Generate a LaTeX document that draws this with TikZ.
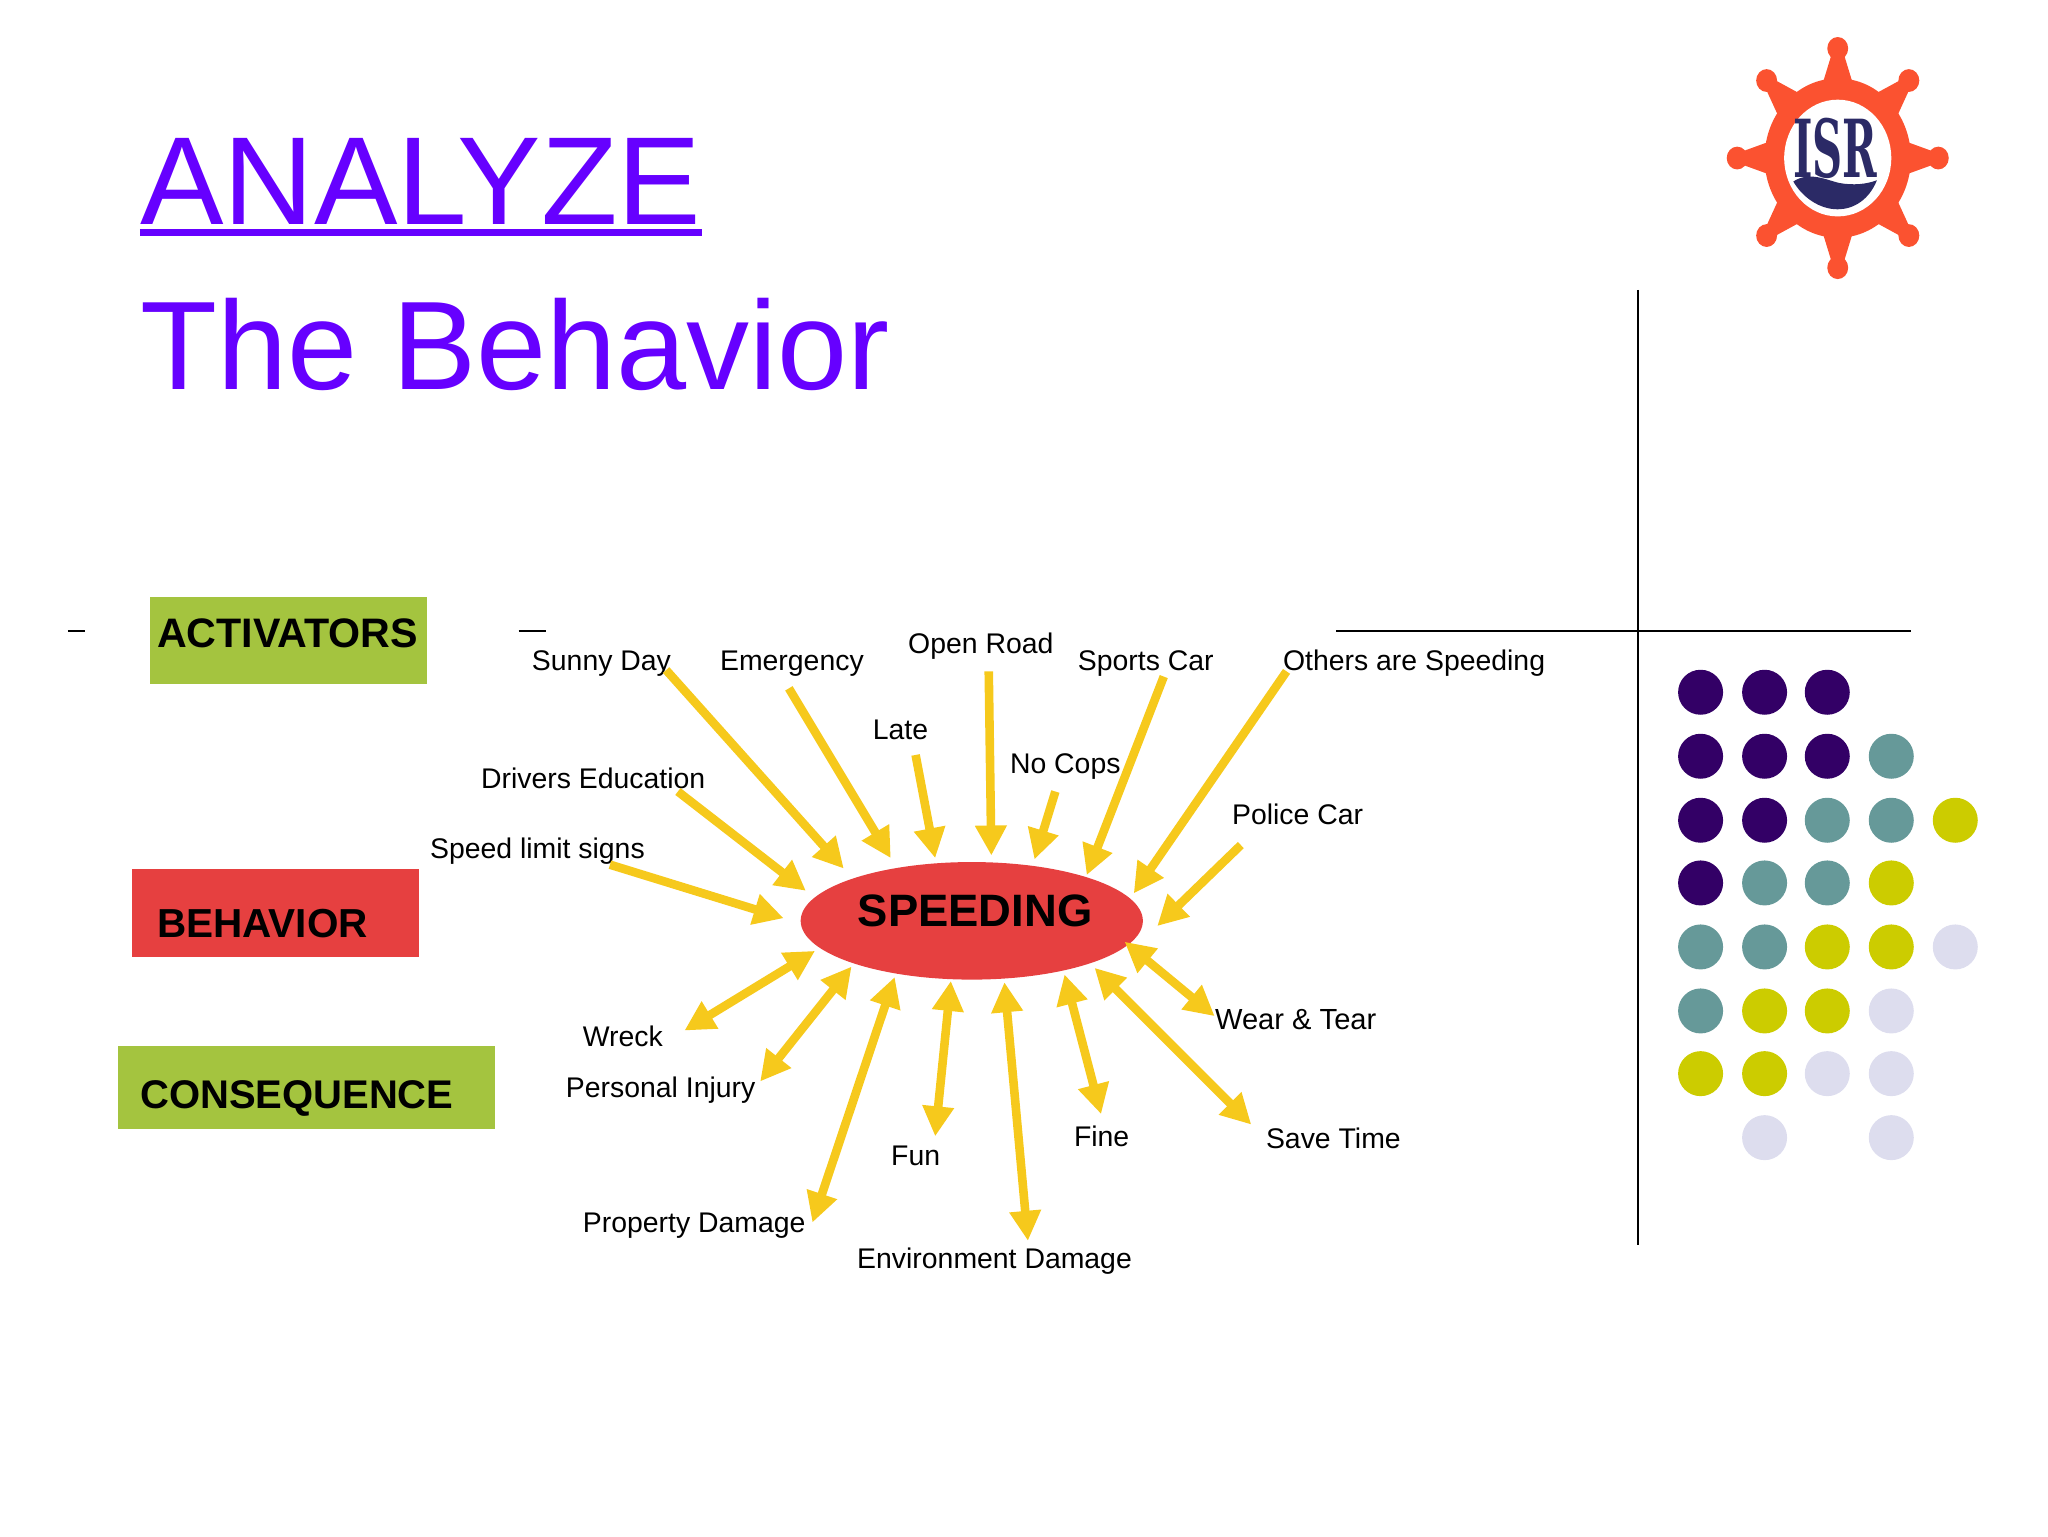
\documentclass[tikz,border=0pt]{standalone}
\usepackage{fontspec}
\setmainfont{Liberation Sans}
\newfontfamily\logofont{DejaVu Serif}
\usetikzlibrary{arrows.meta}
\definecolor{titlecol}{HTML}{6600FF}
\definecolor{arrowcol}{HTML}{F6C91C}
\definecolor{boxgreen}{HTML}{A4C43F}
\definecolor{boxred}{HTML}{E64040}
\definecolor{dotP}{HTML}{330066}
\definecolor{dotT}{HTML}{669999}
\definecolor{dotY}{HTML}{CCCC00}
\definecolor{dotL}{HTML}{DDDDEE}
\definecolor{logoor}{HTML}{FB5230}
\definecolor{logonavy}{HTML}{2B2A66}
\tikzset{
  lbl/.style={anchor=base west,inner sep=0pt,font=\fontsize{14.2}{16}\selectfont,text=black},
  titletxt/.style={anchor=base west,inner sep=0pt,font=\fontsize{#1}{70}\selectfont,text=titlecol},
  boxlbl/.style={anchor=base west,inner sep=0pt,font=\fontsize{#1}{24}\selectfont\bfseries,text=black},
  inarrow/.style={draw=arrowcol,line width=4.3pt,-{Triangle[length=15pt,width=15pt]}},
  botharrow/.style={draw=arrowcol,line width=4.3pt,{Triangle[length=15pt,width=15pt]}-{Triangle[length=15pt,width=15pt]}},
  thinline/.style={draw=black,line width=0.7pt},
  dotc/.style={circle,minimum size=22.5pt,inner sep=0pt,fill=#1},
}
\begin{document}
\begin{tikzpicture}[x=0.65306pt,y=-0.65306pt]
\useasboundingbox (0,0) rectangle (1568,1176);
% titles
\node[titletxt=62.6] (analyze) at (107,172) {ANALYZE};
\draw[titlecol,line width=3.4pt] (analyze.base west |- 0,178) -- (analyze.base east |- 0,178);
\node[titletxt=63] (behavior) at (107,298) {The Behavior};
% rules
\coordinate (vt) at (1254,222); \coordinate (vb) at (1254,953);
\coordinate (hl) at (1023,483); \coordinate (hr) at (1463,483);
\coordinate (d1a) at (52,483); \coordinate (d1b) at (65,483);
\coordinate (d2a) at (397,483); \coordinate (d2b) at (418,483);
\draw[thinline] (vt) -- (vb);
\draw[thinline] (hl) -- (hr);
\draw[thinline] (d1a) -- (d1b);
\draw[thinline] (d2a) -- (d2b);
% boxes
\fill[boxgreen] (115,457) rectangle (327,524);
\node[boxlbl=20.6] (activators) at (120,496) {ACTIVATORS};
\fill[boxred] (101,665) rectangle (321,733);
\node[boxlbl=20.25] (behav) at (120,718) {BEHAVIOR};
\fill[boxgreen] (90,801) rectangle (379,864);
\node[boxlbl=20] (conseq) at (107,849) {CONSEQUENCE};
% centre
\fill[boxred] (744,705) ellipse [x radius=131,y radius=45];
\node[anchor=base,inner sep=0pt,font=\fontsize{22.7}{26}\selectfont\bfseries] (speeding) at (746.5,709) {SPEEDING};
% labels
\node[lbl] (sunny) at (407,513) {Sunny Day};
\node[lbl] (emerg) at (551,513) {Emergency};
\node[lbl] (open) at (695,500) {Open Road};
\node[lbl] (sports) at (825,513) {Sports Car};
\node[lbl] (others) at (982,513) {Others are Speeding};
\node[lbl] (late) at (668,566) {Late};
\node[lbl] (nocops) at (773,592) {No Cops};
\node[lbl] (drivers) at (368,604) {Drivers Education};
\node[lbl] (limit) at (329,657) {Speed limit signs};
\node[lbl] (police) at (943,631) {Police Car};
\node[lbl] (wreck) at (446,801) {Wreck};
\node[lbl] (injury) at (433,840) {Personal Injury};
\node[lbl,font=\fontsize{14.55}{16}\selectfont] (wear) at (930,788) {Wear \& Tear};
\node[lbl] (fine) at (822,878) {Fine};
\node[lbl] (save) at (969,879) {Save Time};
\node[lbl] (fun) at (682,892) {Fun};
\node[lbl] (prop) at (446,944) {Property Damage};
\node[lbl] (env) at (656,971) {Environment Damage};
% arrow ends
\foreach \n/\ax/\ay/\bx/\by in {
 aSunny/510/513/646/665, aEmerg/604/527/682/657, aLate/701/578/716/657,
 aOpen/757/514/759/655, aCops/808/606/792/658, aSports/891/518/832/670,
 aOthers/985/514/868/684, aPolice/950/647/886/709, aDrivers/519/606/617/682,
 aLimit/467/662/600/703}{
  \coordinate (\n s) at (\ax,\ay); \coordinate (\n e) at (\bx,\by);
  \draw[inarrow] (\n s) -- (\n e);
}
\foreach \n/\ax/\ay/\bx/\by in {
 bWear/861/721/930/778, bSave/838/741/958/861, bFine/815/746/843/853,
 bEnv/769/752/787/950, bFun/728/751/716/870, bProp/685/748/622/936,
 bInjury/652/740/582/828, bWreck/624/728/524/789}{
  \coordinate (\n s) at (\ax,\ay); \coordinate (\n e) at (\bx,\by);
  \draw[botharrow] (\n s) -- (\n e);
}
% dots
\foreach \c/\row/\cols in {
 dotP/530/{1302,1351,1399},
 dotP/579/{1302,1351,1399}, dotT/579/{1448},
 dotP/628/{1302,1351}, dotT/628/{1399,1448}, dotY/628/{1497},
 dotP/676/{1302}, dotT/676/{1351,1399}, dotY/676/{1448},
 dotT/725/{1302,1351}, dotY/725/{1399,1448}, dotL/725/{1497},
 dotT/774/{1302}, dotY/774/{1351,1399}, dotL/774/{1448},
 dotY/822/{1302,1351}, dotL/822/{1399,1448},
 dotL/871/{1351,1448}}{
  \foreach \x in \cols { \node[dotc=\c] at (\x,\row) {}; }
}
% logo
\begin{scope}[shift={(1407,121)},yscale=1.09]
  \foreach \a in {0,45,...,315}{
    \begin{scope}[rotate=\a]
      \fill[logoor] (48,-13) -- (72,-5) -- (72,5) -- (48,13) -- cycle;
      \fill[logoor] (77,0) circle (8);
    \end{scope}
  }
  \fill[logoor] (0,0) circle (56);
  \fill[white] (0,0) circle (41);
  \fill[logonavy] (-34,16.5) .. controls (-22,9) and (-8,15.6) .. (1,17.5) .. controls (12,19.3) and (22,18.4) .. (30,15.6) .. controls (24,29.4) and (12,36) .. (0,36) .. controls (-14,36) and (-27,27.6) .. (-34,16.5) -- cycle;
  \node[inner sep=0pt,xscale=0.52,text=logonavy,font=\logofont\fontsize{40}{44}\selectfont\bfseries] (isr) at (-2,-7) {ISR};
\end{scope}
\end{tikzpicture}
\end{document}
